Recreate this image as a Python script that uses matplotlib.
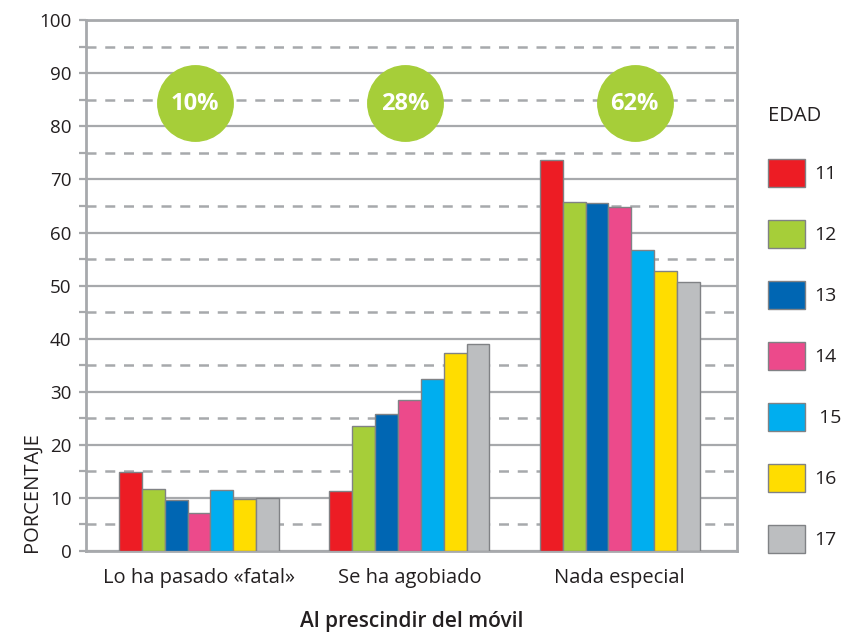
import numpy as np
import matplotlib.pyplot as plt
from matplotlib.patches import Patch
from matplotlib.ticker import MultipleLocator

plt.rcParams['font.family'] = ['Open Sans', 'DejaVu Sans']

# datos
categories = ['Lo ha pasado «fatal»', 'Se ha agobiado', 'Nada especial']
ages = ['11', '12', '13', '14', ' 15', '16', '17']
values = [
    [14.8, 11.4, 73.6],   # 11
    [11.6, 23.5, 65.7],   # 12
    [9.7, 25.9, 65.5],    # 13
    [7.1, 28.4, 64.8],    # 14
    [11.5, 32.4, 56.8],   # 15
    [9.8, 37.4, 52.8],    # 16
    [9.9, 39.0, 50.7],    # 17
]
totals = ['10%', '28%', '62%']
colors = ['#ED1C24', '#A6CE39', '#0066B3', '#EC4A8B', '#00AEEF', '#FFDD00', '#BCBEC0']

grid_color = '#A7A9AC'
text_color = '#231F20'

fig = plt.figure(figsize=(8.43, 6.33), dpi=100)
ax = fig.add_axes([0.102, 0.1295, 0.772, 0.8385])

x = np.arange(len(categories))
width = 0.1086
for i, (age, vals) in enumerate(zip(ages, values)):
    ax.bar(x + (i - 3) * width, vals, width, color=colors[i],
           edgecolor='#808285', linewidth=1.0, zorder=3, label=age)

# circulos verdes con el porcentaje
circle_x = [-0.02, 0.98, 2.07]
ax.scatter(circle_x, [84.4] * 3, s=2950, color='#A6CE39', zorder=4, clip_on=False)
for cx, t in zip(circle_x, totals):
    ax.text(cx, 84.2, t, ha='center', va='center', color='white',
            fontsize=17, fontweight='bold', zorder=5)

ax.set_xlim(-0.537, 2.556)
ax.set_ylim(0, 100)
ax.yaxis.set_major_locator(MultipleLocator(10))
ax.yaxis.set_minor_locator(MultipleLocator(5))
ax.grid(True, which='major', axis='y', color=grid_color, linewidth=1.6, zorder=1)
ax.grid(True, which='minor', axis='y', color=grid_color, linewidth=1.8,
        linestyle=(0, (4, 3.5)), zorder=1)
ax.tick_params(axis='y', which='both', length=5, width=1.6, color=grid_color,
               labelsize=13.5, labelcolor=text_color, pad=5.5)
ax.tick_params(axis='x', length=0, labelsize=14.5, labelcolor=text_color, pad=12.5)
ax.set_xticks(x)
ax.set_xticklabels(categories)

for s in ax.spines.values():
    s.set_color(grid_color)
    s.set_linewidth(2.0)
    s.set_zorder(2)

ax.set_xlabel('Al prescindir del móvil', fontsize=15, color=text_color,
              fontweight='semibold', labelpad=16)
ax.set_ylabel('PORCENTAJE', fontsize=14.5, color=text_color)
ax.yaxis.set_label_coords(-0.068, 0.111)

handles = [Patch(facecolor=c, edgecolor='#808285', linewidth=1.0) for c in colors]
leg = fig.legend(handles, ages, title='EDAD', loc='upper left',
                 bbox_to_anchor=(0.902, 0.845), frameon=False, fontsize=14,
                 title_fontsize=14.5, handlelength=1.9, handleheight=1.8,
                 labelspacing=1.72, handletextpad=0.45, borderaxespad=0)
leg._legend_box.align = 'left'
for t in leg.get_texts():
    t.set_color(text_color)
leg.get_title().set_color(text_color)

fig.savefig('out.png', dpi=100)
